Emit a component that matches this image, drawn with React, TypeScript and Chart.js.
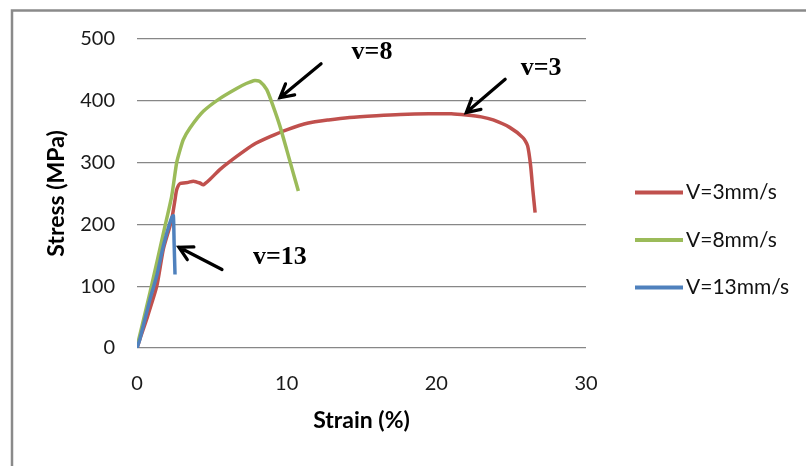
import React, { useEffect, useRef } from "react";
import { Chart, registerables } from "chart.js";

Chart.register(...registerables);

// ---- Data (strain %, stress MPa) ----
const strainV3 = [0, 0.2, 0.65, 1.32, 1.76, 2.2, 2.38, 2.54, 2.65, 2.87, 3.43, 3.76, 4.2, 4.43, 4.88, 5.55, 6.66, 7.77, 8.89, 10.0, 11.45, 12.8, 14.2, 16.0, 17.6, 19.5, 21.0, 22.0, 23.0, 23.8, 24.9, 25.8, 26.1, 26.3, 26.45, 26.6];
const stressV3 = [0, 15, 47, 100, 160, 197, 216, 240, 256, 266, 268, 270, 267, 264, 273, 289, 310, 329, 342, 353, 364, 369, 373, 376, 378, 379, 379, 377, 374, 369, 357, 340, 327, 295, 255, 219];

const strainV8 = [0, 0.1, 0.87, 1.87, 2.32, 2.65, 2.87, 3.09, 3.54, 4.43, 5.55, 6.66, 7.3, 7.88, 8.22, 8.67, 9.1, 9.55, 10.0, 10.44, 10.78];
const stressV8 = [5, 12, 90, 197, 246, 300, 320, 337, 356, 383, 404, 420, 428, 433, 431, 418, 391, 359, 321, 283, 254];

const strainV13 = [0, 0.2, 0.87, 1.32, 1.76, 2.1, 2.32, 2.43, 2.48, 2.54];
const stressV13 = [0, 15, 79, 117, 165, 195, 211, 214, 170, 119];

const seriesLabels = ["V=3mm/s", "V=8mm/s", "V=13mm/s"];
const seriesColors = ["#C0504D", "#9BBB59", "#4F81BD"];

const xTickValues = [0, 10, 20, 30];
const yTickValues = [0, 100, 200, 300, 400, 500];
const xTitle = "Strain (%)";
const yTitle = "Stress (MPa)";

// Annotations (in data coordinates)
const noteTexts = ["v=8", "v=3", "v=13"];
const noteX = [15.7, 27.0, 9.55];
const noteY = [479, 453, 146];
const arrowTailX = [12.3, 24.6, 5.68];
const arrowTailY = [460, 435, 127];
const arrowHeadX = [9.55, 22.0, 2.8];
const arrowHeadY = [405, 381, 163];

const toPoints = (xs: number[], ys: number[]) => xs.map((x, i) => ({ x, y: ys[i] }));

const framePlugin = {
  id: "frame",
  beforeDraw(chart: any) {
    const ctx = chart.ctx;
    ctx.save();
    ctx.fillStyle = "#ffffff";
    ctx.fillRect(0, 0, chart.width, chart.height);
    ctx.strokeStyle = "#8a8a8a";
    ctx.lineWidth = 2.5;
    ctx.beginPath();
    ctx.moveTo(12, chart.height + 5);
    ctx.lineTo(12, 10.5);
    ctx.lineTo(chart.width + 5, 10.5);
    ctx.stroke();
    ctx.restore();
  },
};

const notesPlugin = {
  id: "notes",
  afterDatasetsDraw(chart: any) {
    const ctx = chart.ctx;
    const xs = chart.scales.x;
    const ys = chart.scales.y;
    ctx.save();
    ctx.fillStyle = "#000";
    ctx.strokeStyle = "#000";
    ctx.font = "bold 26px 'Liberation Serif', 'Times New Roman', serif";
    ctx.textAlign = "center";
    ctx.textBaseline = "middle";
    noteTexts.forEach((t, i) => {
      ctx.fillText(t, xs.getPixelForValue(noteX[i]), ys.getPixelForValue(noteY[i]));
      const x1 = xs.getPixelForValue(arrowTailX[i]);
      const y1 = ys.getPixelForValue(arrowTailY[i]);
      const x2 = xs.getPixelForValue(arrowHeadX[i]);
      const y2 = ys.getPixelForValue(arrowHeadY[i]);
      ctx.lineWidth = 3.2;
      ctx.lineCap = "round";
      ctx.beginPath();
      ctx.moveTo(x1, y1);
      ctx.lineTo(x2, y2);
      const ang = Math.atan2(y1 - y2, x1 - x2);
      const len = 15;
      const spread = 0.5;
      ctx.moveTo(x2 + len * Math.cos(ang + spread), y2 + len * Math.sin(ang + spread));
      ctx.lineTo(x2, y2);
      ctx.lineTo(x2 + len * Math.cos(ang - spread), y2 + len * Math.sin(ang - spread));
      ctx.stroke();
    });
    ctx.restore();
  },
};

const legendPlugin = {
  id: "customLegend",
  afterDraw(chart: any) {
    const ctx = chart.ctx;
    ctx.save();
    ctx.font = "21px Lato, 'Open Sans', sans-serif";
    ctx.textBaseline = "middle";
    ctx.textAlign = "left";
    chart.data.datasets.forEach((ds: any, i: number) => {
      const y = 192.5 + i * 47.5;
      ctx.strokeStyle = ds.borderColor;
      ctx.lineWidth = 4;
      ctx.lineCap = "butt";
      ctx.beginPath();
      ctx.moveTo(635, y);
      ctx.lineTo(683, y);
      ctx.stroke();
      ctx.fillStyle = "#111";
      ctx.fillText(ds.label, 686, y);
    });
    ctx.restore();
  },
};

export default function App() {
  const ref = useRef<HTMLCanvasElement | null>(null);

  useEffect(() => {
    document.body.style.margin = "0";
    const canvas = ref.current;
    if (!canvas) return;
    const datasets = [
      toPoints(strainV3, stressV3),
      toPoints(strainV8, stressV8),
      toPoints(strainV13, stressV13),
    ].map((data, i) => ({
      label: seriesLabels[i],
      data,
      borderColor: seriesColors[i],
      backgroundColor: seriesColors[i],
      borderWidth: 3.5,
      pointRadius: 0,
      showLine: true,
      tension: 0.2,
      fill: false,
      order: 3 - i,
    }));

    const chart = new Chart(canvas, {
      type: "scatter",
      data: { datasets },
      options: {
        responsive: false,
        animation: false,
        layout: { padding: { left: 0, top: 39, right: 220, bottom: 32 } },
        plugins: { legend: { display: false }, tooltip: { enabled: false } },
        scales: {
          x: {
            type: "linear",
            min: 0,
            max: 30,
            afterBuildTicks: (s: any) => {
              s.ticks = xTickValues.map((v) => ({ value: v }));
            },
            ticks: {
              padding: 24,
              color: "#1a1a1a",
              font: { family: "Lato, 'Open Sans', sans-serif", size: 20 },
            },
            grid: { display: false, drawTicks: false },
            border: { display: false },
            title: {
              display: true,
              text: xTitle,
              color: "#000",
              font: { family: "Lato, 'Open Sans', sans-serif", size: 23, weight: "bold" },
              padding: { top: 0, bottom: 0 },
            },
            afterFit: (s: any) => {
              s.height = 86;
            },
          },
          y: {
            type: "linear",
            min: 0,
            max: 500,
            afterBuildTicks: (s: any) => {
              s.ticks = yTickValues.map((v) => ({ value: v }));
            },
            ticks: {
              padding: 22,
              color: "#1a1a1a",
              font: { family: "Lato, 'Open Sans', sans-serif", size: 20 },
            },
            grid: { color: "#878787", lineWidth: 1.2, drawTicks: false },
            border: { display: false },
            title: {
              display: true,
              text: yTitle,
              color: "#000",
              font: { family: "Lato, 'Open Sans', sans-serif", size: 23, weight: "bold" },
              padding: { top: 43, bottom: 0 },
            },
            afterFit: (s: any) => {
              s.width = 137;
            },
          },
        },
      },
      plugins: [framePlugin, notesPlugin, legendPlugin],
    } as any);

    return () => chart.destroy();
  }, []);

  return (
    <div style={{ position: "absolute", left: 0, top: 0, width: 806, height: 466 }}>
      <canvas ref={ref} width={806} height={466} style={{ width: 806, height: 466, display: "block" }} />
    </div>
  );
}
